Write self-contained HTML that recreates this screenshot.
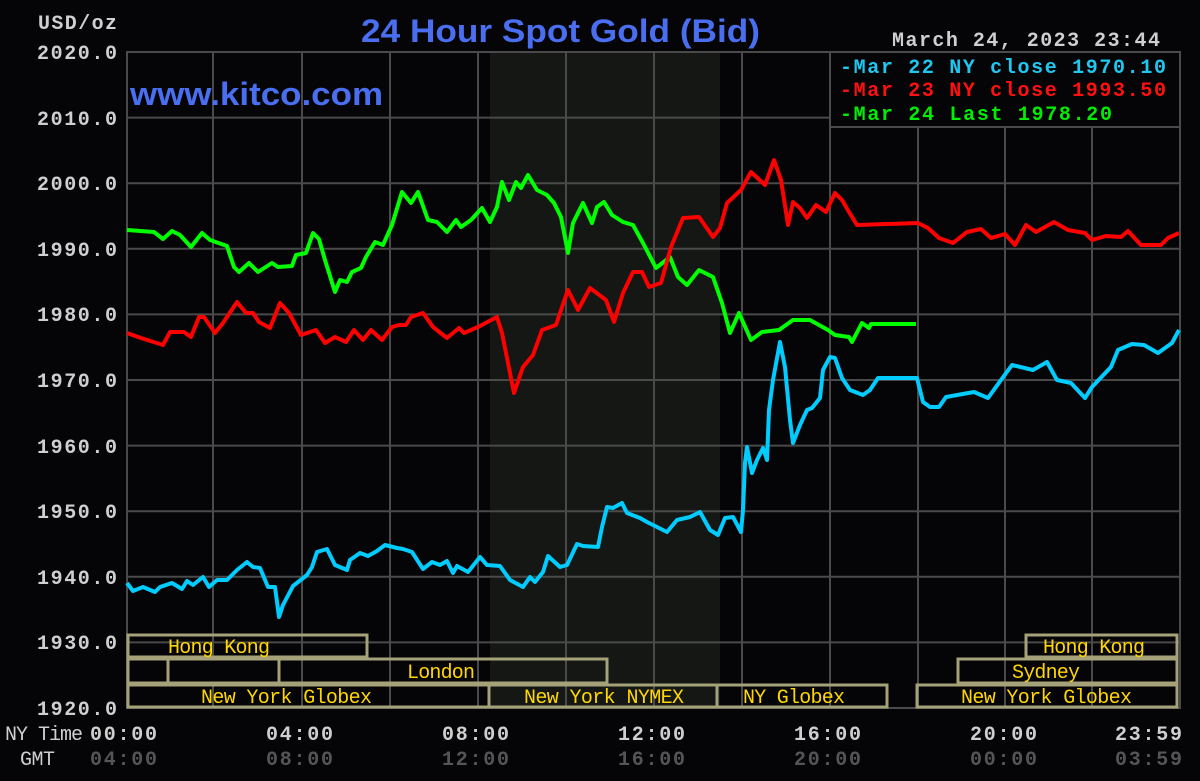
<!DOCTYPE html>
<html><head><meta charset="utf-8"><style>
html,body{margin:0;padding:0;background:#050407;}
svg{display:block}
.m{font-family:"Liberation Mono",monospace;font-weight:bold;font-size:20px}
</style></head><body>
<svg width="1200" height="781" viewBox="0 0 1200 781" xmlns="http://www.w3.org/2000/svg">
<rect width="1200" height="781" fill="#050407"/>
<rect x="490" y="52" width="230" height="656" fill="#141714"/>
<g stroke="#4a4a4a" stroke-width="2">
<line x1="127" y1="117.6" x2="1180" y2="117.6"/><line x1="127" y1="183.2" x2="1180" y2="183.2"/>
<line x1="127" y1="248.8" x2="1180" y2="248.8"/><line x1="127" y1="314.4" x2="1180" y2="314.4"/>
<line x1="127" y1="380" x2="1180" y2="380"/><line x1="127" y1="445.6" x2="1180" y2="445.6"/>
<line x1="127" y1="511.2" x2="1180" y2="511.2"/><line x1="127" y1="576.8" x2="1180" y2="576.8"/>
<line x1="127" y1="642.4" x2="1180" y2="642.4"/>
<line x1="213" y1="52" x2="213" y2="708"/><line x1="302" y1="52" x2="302" y2="708"/>
<line x1="390" y1="52" x2="390" y2="708"/><line x1="478" y1="52" x2="478" y2="708"/>
<line x1="566" y1="52" x2="566" y2="708"/><line x1="654" y1="52" x2="654" y2="708"/>
<line x1="742" y1="52" x2="742" y2="708"/><line x1="830" y1="52" x2="830" y2="708"/>
<line x1="918" y1="52" x2="918" y2="708"/><line x1="1005" y1="52" x2="1005" y2="708"/>
<line x1="1092" y1="52" x2="1092" y2="708"/>
<rect x="127" y="52" width="1053" height="656" fill="none"/>
</g>
<g fill="none" stroke="#a5a27a" stroke-width="3">
<rect x="128" y="635" width="239" height="22"/>
<rect x="1026" y="635" width="151" height="22"/>
<rect x="128" y="659" width="40" height="24"/>
<rect x="168" y="659" width="111" height="24" fill="#050407"/>
<rect x="279" y="659" width="328" height="24"/>
<rect x="958" y="659" width="219" height="24"/>
<rect x="128" y="685" width="361" height="22"/>
<rect x="489" y="685" width="228" height="22"/>
<rect x="717" y="685" width="170" height="22"/>
<rect x="917" y="685" width="260" height="22"/>
</g>
<g font-family="Liberation Mono,monospace" font-size="20" fill="#ffd700" lengthAdjust="spacingAndGlyphs">
<text x="168" y="653" textLength="102">Hong Kong</text>
<text x="1043" y="653" textLength="102">Hong Kong</text>
<text x="407" y="678" textLength="68">London</text>
<text x="1012" y="678" textLength="68">Sydney</text>
<text x="201" y="703" textLength="171">New York Globex</text>
<text x="524" y="703" textLength="160">New York NYMEX</text>
<text x="743" y="703" textLength="102">NY Globex</text>
<text x="961" y="703" textLength="171">New York Globex</text>
</g>
<g fill="none" stroke-width="4" stroke-linejoin="round">
<polyline stroke="#00ff00" points="127,230 154,232 163,239 172,231 180,235 191,247 202,233 210,240 227,246 234,267 239,272 249,263 258,272 272,263 278,267 292,266 296,255 306,253 313,233 319,239 325,260 335,292 340,280 347,282 352,272 361,268 366,257 375,242 383,245 392,225 402,192 411,203 418,192 428,220 437,222 447,232 456,220 461,227 471,220 482,208 490,222 497,207 502,182 509,200 516,182 521,188 528,175 537,190 547,195 554,203 561,217 568,253 573,223 583,203 592,223 597,207 604,202 612,215 623,222 633,225 643,243 656,268 670,257 678,277 687,285 699,270 713,277 722,303 730,333 739,313 751,340 762,332 779,330 793,320 810,320 828,330 835,335 849,337 852,342 862,323 869,328 871,324 916,324"/>
<polyline stroke="#ff0000" points="127,333 141,338 163,345 170,332 184,332 191,337 199,317 204,317 215,333 223,323 237,302 246,313 253,313 259,322 270,328 280,303 289,313 301,335 316,330 325,343 335,337 346,342 354,330 363,340 371,330 382,340 392,327 399,325 406,325 411,317 423,313 433,327 447,338 459,328 464,333 478,327 497,317 502,333 514,393 523,367 533,355 542,330 556,325 561,310 568,290 578,310 590,288 606,300 614,322 623,293 633,272 642,272 649,287 661,283 671,247 683,218 699,217 713,237 720,228 727,203 741,190 751,172 765,185 774,160 781,180 788,225 793,202 800,208 807,218 816,205 826,212 835,193 842,200 849,212 857,225 918,223 928,228 939,238 953,243 967,232 981,229 991,238 1005,234 1015,245 1026,225 1036,232 1054,222 1068,230 1085,233 1092,240 1106,236 1121,237 1128,231 1141,245 1161,245 1168,238 1179,233"/>
<polyline stroke="#00ccff" points="127,583 133,591 143,587 155,592 160,587 172,583 182,589 187,581 193,585 203,577 209,587 217,580 227,580 237,570 247,562 253,567 260,568 268,587 275,587 279,617 283,605 293,586 307,575 312,567 317,552 327,549 335,565 347,570 350,560 360,553 368,556 377,551 385,545 397,548 403,549 412,552 423,569 432,562 440,565 447,561 453,573 457,566 468,572 480,557 487,565 500,566 510,580 523,587 530,577 535,582 543,572 548,556 560,567 567,565 577,544 583,546 598,547 602,527 607,507 613,508 622,503 627,513 640,518 647,522 667,532 677,520 690,517 700,512 710,530 718,535 725,518 733,517 741,532 743,510 745,463 747,447 752,473 757,460 763,448 767,460 769,410 773,380 780,342 785,367 790,420 793,443 800,425 807,410 812,408 820,398 823,370 830,357 835,358 842,378 850,390 863,395 870,390 878,378 917,378 923,402 930,407 939,407 946,397 974,392 988,398 1001,380 1012,365 1033,370 1047,362 1057,380 1071,383 1085,398 1092,387 1111,367 1118,350 1132,344 1144,345 1158,353 1172,343 1179,330"/>
</g>
<rect x="830" y="52" width="350" height="75" fill="#050407" stroke="#4a4a4a" stroke-width="2"/>
<g class="m" lengthAdjust="spacingAndGlyphs">
<text x="840" y="73" fill="#1ec8f0" textLength="326">-Mar 22 NY close 1970.10</text>
<text x="840" y="96" fill="#ff1010" textLength="326">-Mar 23 NY close 1993.50</text>
<text x="840" y="120" fill="#00ee00" textLength="272">-Mar 24 Last 1978.20</text>
<text x="892" y="46" fill="#cfcfcf" textLength="268">March 24, 2023 23:44</text>
<text x="38" y="29" fill="#cfcfcf" textLength="79">USD/oz</text>
</g>
<g class="m" fill="#cfcfcf" lengthAdjust="spacingAndGlyphs">
<text x="37" y="59" textLength="80">2020.0</text><text x="37" y="125" textLength="80">2010.0</text>
<text x="37" y="190" textLength="80">2000.0</text><text x="37" y="256" textLength="80">1990.0</text>
<text x="37" y="321" textLength="80">1980.0</text><text x="37" y="387" textLength="80">1970.0</text>
<text x="37" y="453" textLength="80">1960.0</text><text x="37" y="518" textLength="80">1950.0</text>
<text x="37" y="584" textLength="80">1940.0</text><text x="37" y="649" textLength="80">1930.0</text>
<text x="37" y="715" textLength="80">1920.0</text>
</g>
<g font-family="Liberation Mono,monospace" font-size="20" fill="#cfcfcf" lengthAdjust="spacingAndGlyphs">
<text x="5" y="740" textLength="78">NY Time</text>
<text x="20" y="765" textLength="35">GMT</text>
</g>
<g class="m" lengthAdjust="spacingAndGlyphs">
<g fill="#cfcfcf"><text x="90" y="740" textLength="67">00:00</text><text x="266" y="740" textLength="67">04:00</text><text x="442" y="740" textLength="67">08:00</text><text x="618" y="740" textLength="67">12:00</text><text x="794" y="740" textLength="67">16:00</text><text x="970" y="740" textLength="67">20:00</text><text x="1115" y="740" textLength="67">23:59</text></g>
<g fill="#555"><text x="90" y="765" textLength="67">04:00</text><text x="266" y="765" textLength="67">08:00</text><text x="442" y="765" textLength="67">12:00</text><text x="618" y="765" textLength="67">16:00</text><text x="794" y="765" textLength="67">20:00</text><text x="970" y="765" textLength="67">00:00</text><text x="1115" y="765" textLength="67">03:59</text></g>
</g>
<text x="361" y="42" fill="#4a6ef0" font-family="Liberation Sans,sans-serif" font-weight="bold" font-size="32" textLength="399" lengthAdjust="spacingAndGlyphs">24 Hour Spot Gold (Bid)</text>
<text x="130" y="105" fill="#4a6ef0" font-family="Liberation Sans,sans-serif" font-weight="bold" font-size="32" textLength="253" lengthAdjust="spacingAndGlyphs">www.kitco.com</text>
</svg>
</body></html>
